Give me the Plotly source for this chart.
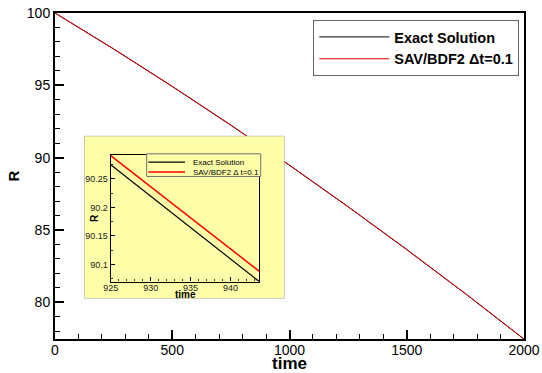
import plotly.graph_objects as go

# ---- main data ----
time = [0, 250, 500, 750, 1000, 1250, 1500, 1750, 2000]
R_exact = [100.0, 97.51, 94.92, 92.24, 89.47, 86.60, 83.64, 80.59, 77.45]
R_sav = [100.0, 97.52, 94.93, 92.25, 89.48, 86.61, 83.65, 80.60, 77.46]

# ---- inset (zoom) data ----
time_zoom = [925, 930, 935, 940, 943.6]
R_exact_zoom = [90.275, 90.220, 90.165, 90.110, 90.070]
R_sav_zoom = [90.291, 90.236, 90.182, 90.127, 90.088]

x_ticks_main = [0, 500, 1000, 1500, 2000]
y_ticks_main = [80, 85, 90, 95, 100]
x_ticks_zoom = [925, 930, 935, 940]
y_ticks_zoom = [90.1, 90.15, 90.2, 90.25]

name_exact = "Exact Solution"
name_sav = "SAV/BDF2 \u0394t=0.1"
name_sav_zoom = "SAV/BDF2 \u0394 t=0.1"

FONT = "Arial, Liberation Sans, sans-serif"
YELLOW = "#FFFFAA"

fig = go.Figure()
fig.add_trace(go.Scatter(x=time, y=R_exact, mode="lines", name=name_exact,
                         line=dict(color="black", width=1)))
fig.add_trace(go.Scatter(x=time, y=R_sav, mode="lines", name=name_sav,
                         line=dict(color="#E00000", width=1)))
# carrier for the inset's yellow panel subplot
fig.add_trace(go.Scatter(x=[None], y=[None], xaxis="x2", yaxis="y2",
                         showlegend=False, hoverinfo="skip"))
fig.add_trace(go.Scatter(x=time_zoom, y=R_exact_zoom, mode="lines", xaxis="x3", yaxis="y3",
                         name=name_exact, showlegend=False, line=dict(color="black", width=1.2)))
fig.add_trace(go.Scatter(x=time_zoom, y=R_sav_zoom, mode="lines", xaxis="x3", yaxis="y3",
                         name=name_sav_zoom, showlegend=False, line=dict(color="#FF0000", width=1.5)))

axis_common = dict(showline=True, linecolor="black", mirror=True, showgrid=False,
                   zeroline=False, ticks="inside", tickcolor="black", automargin=False)

fig.update_layout(
    width=542, height=373,
    margin=dict(l=55, r=18, t=13, b=34, autoexpand=False),
    paper_bgcolor="white", plot_bgcolor="rgba(0,0,0,0)",
    font=dict(family=FONT, color="black"),
    showlegend=True,
    legend=dict(x=0.5507, y=0.9786, xanchor="left", yanchor="top",
                bgcolor="white", bordercolor="#666666", borderwidth=1,
                font=dict(family=FONT, size=14.5, color="black", weight="bold"),
                itemwidth=70, tracegroupgap=0),
    xaxis=dict(**axis_common, range=[0, 2000], linewidth=2, tickwidth=2, ticklen=9,
               tickvals=x_ticks_main, tickfont=dict(size=14), ticklabelstandoff=-3,
               minor=dict(dtick=100, tick0=0, ticklen=5, tickwidth=1, ticks="inside", tickcolor="black"),
               title=dict(text="<b>time</b>", font=dict(size=17), standoff=4)),
    yaxis=dict(**axis_common, range=[77.46, 100], linewidth=2, tickwidth=2, ticklen=9,
               tickvals=y_ticks_main, tickfont=dict(size=14),
               minor=dict(dtick=1, tick0=0, ticklen=5, tickwidth=1, ticks="inside", tickcolor="black"),
               title=dict(text="<b>R</b>", font=dict(size=15), standoff=4)),
    xaxis2=dict(domain=[0.0625, 0.4893], range=[0, 1], visible=False, anchor="y2", fixedrange=True),
    yaxis2=dict(domain=[0.124, 0.6233], range=[0, 1], visible=False, anchor="x2", fixedrange=True),
    xaxis3=dict(**axis_common, domain=[0.1188, 0.4356], anchor="y3", range=[925, 943.6],
                linewidth=1.2, tickwidth=1, ticklen=4, tickvals=x_ticks_zoom, ticklabelstandoff=-2,
                tickfont=dict(size=9, color="#222222"),
                minor=dict(dtick=1, tick0=925, ticklen=2, tickwidth=1, ticks="inside", tickcolor="#333333")),
    yaxis3=dict(**axis_common, domain=[0.1761, 0.5651], anchor="x3", range=[90.070, 90.2925],
                linewidth=1.2, tickwidth=1, ticklen=4, tickvals=y_ticks_zoom,
                tickfont=dict(size=9, color="#222222"),
                minor=dict(dtick=0.025, tick0=90, ticklen=2, tickwidth=1, ticks="inside", tickcolor="#333333")),
)

# yellow inset panel, drawn in the x2y2 subplot (above main traces, below inset traces)
fig.add_shape(type="rect", xref="x2", yref="y2", x0=0, x1=1, y0=0, y1=1, layer="below",
              fillcolor=YELLOW, line=dict(color="#9A9A9A", width=1))

# inset axis titles
fig.add_annotation(text="<b>time</b>", xref="x3 domain", yref="y3 domain", x=0.5, y=0,
                   xanchor="center", yanchor="top", yshift=-5, showarrow=False,
                   font=dict(size=10, family=FONT, color="black"))
fig.add_annotation(text="<b>R</b>", xref="x3 domain", yref="y3 domain", x=0, y=0.5,
                   xanchor="center", yanchor="middle", xshift=-17, textangle=-90, showarrow=False,
                   font=dict(size=10, family=FONT, color="black"))

# inset legend (box, line samples, labels)
fig.add_shape(type="rect", xref="paper", yref="paper", x0=0.1955, x1=0.4386, y0=0.4986, y1=0.5681,
              layer="above", fillcolor=YELLOW, line=dict(color="#707070", width=1))
fig.add_shape(type="line", xref="paper", yref="paper", x0=0.1989, x1=0.2772, y0=0.5427, y1=0.5427,
              layer="above", line=dict(color="black", width=1.2))
fig.add_shape(type="line", xref="paper", yref="paper", x0=0.1989, x1=0.2772, y0=0.5121, y1=0.5121,
              layer="above", line=dict(color="#FF0000", width=1.5))
fig.add_annotation(text=name_exact, xref="paper", yref="paper", x=0.2893, y=0.5427,
                   xanchor="left", yanchor="middle", showarrow=False,
                   font=dict(size=8, family=FONT, color="black"))
fig.add_annotation(text=name_sav_zoom, xref="paper", yref="paper", x=0.2893, y=0.5121,
                   xanchor="left", yanchor="middle", showarrow=False,
                   font=dict(size=8, family=FONT, color="black"))

# remove the browser's default 8px body margin so the 542x373 figure fills the window
fig.write_html("out.html", config={"displayModeBar": False},
               post_script="document.body.style.margin='0px';")
